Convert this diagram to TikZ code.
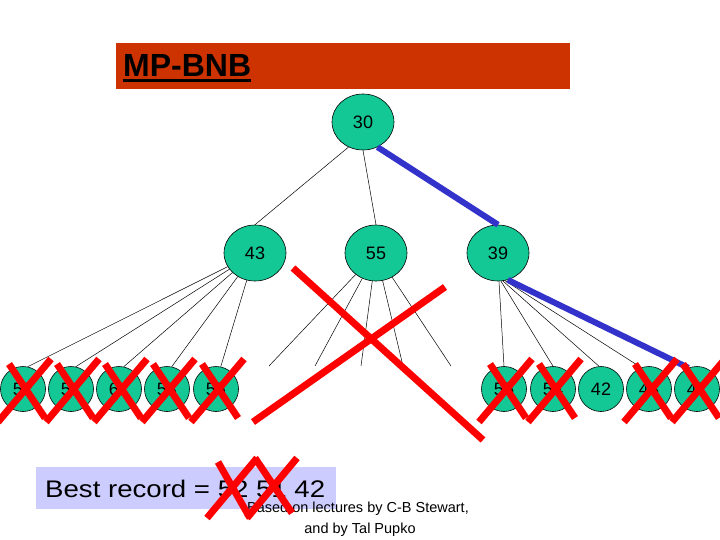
\documentclass[tikz,border=0pt]{standalone}
\usepackage{fontspec}
\setmainfont{Liberation Sans}
\usetikzlibrary{shapes.geometric}
\definecolor{nodegreen}{RGB}{20,200,150}
\definecolor{titlered}{RGB}{204,51,0}
\definecolor{boxblue}{RGB}{204,204,255}
\definecolor{pathblue}{RGB}{51,51,204}
\definecolor{crossred}{RGB}{255,0,0}
\tikzset{
  inner/.style={ellipse, draw=black, line width=0.6pt, fill=nodegreen, minimum width=62pt, minimum height=56pt, inner sep=0pt, font=\fontsize{18}{21}\selectfont},
  leaf/.style={circle, draw=black, line width=0.6pt, fill=nodegreen, minimum size=45pt, inner sep=0pt, font=\fontsize{18}{21}\selectfont},
  edge/.style={line width=0.5pt, draw=black},
  bestpath/.style={line width=6pt, draw=pathblue},
  cross/.style={line width=7pt, draw=crossred},
  redx/.pic={\draw[cross] (-14,-25) -- (22,29); \draw[cross] (28,-30) -- (-25,33);}
}
\begin{document}
\begin{tikzpicture}[x=1pt,y=-1pt]
\useasboundingbox (0,0) rectangle (720,540);
% title
\node[fill=titlered, minimum width=454pt, minimum height=46pt, inner sep=0pt] (bar) at (343,66) {};
\node[anchor=base west, inner sep=0pt, font=\fontsize{32}{36}\selectfont\bfseries] (ttl) at (123,77) {MP-BNB};
\draw[line width=2.5pt] ([yshift=-3.6pt]ttl.base west) -- ([yshift=-3.6pt]ttl.base east);
% internal nodes
\node[inner] (root) at (363,122) {30};
\node[inner] (n43) at (255,253) {43};
\node[inner] (n55) at (376,253) {55};
\node[inner] (n39) at (498,253) {39};
% leaves
\node[leaf] (l1) at (23,389) {52};
\node[leaf] (l2) at (71,389) {51};
\node[leaf] (l3) at (119,389) {61};
\node[leaf] (l4) at (167,389) {53};
\node[leaf] (l5) at (216,389) {55};
\node[leaf] (r1) at (504,389) {55};
\node[leaf] (r2) at (553,389) {54};
\node[leaf] (r3) at (601,389) {42};
\node[leaf] (r4) at (649,389) {43};
\node[leaf] (r5) at (697,389) {47};
% free ends under 55
\coordinate (c1) at (269,366);
\coordinate (c2) at (315,366);
\coordinate (c3) at (361,366);
\coordinate (c4) at (403,366);
\coordinate (c5) at (451,366);
% edges
\draw[edge] (root.240) -- (n43.north);
\draw[edge] (root.south) -- (n55.north);
\draw[bestpath] (root.-60) -- (n39.north);
\foreach \l in {l1,l2,l3,l4,l5} {\draw[edge] (n43) -- (\l.78);}
\foreach \c in {c1,c2,c3,c4,c5} {\draw[edge] (n55) -- (\c);}
\draw[edge] (n39.-88) -- (r1.north);
\draw[edge] (n39.-84) -- (r2.north);
\draw[edge] (n39.-80) -- (r3.95);
\draw[edge] (n39.-76) -- (r4.110);
\draw[bestpath] (n39.-70) -- (r5.112);
% crosses on leaves
\foreach \l in {l1,l2,l3,l4,l5,r1,r2,r4,r5} {\path (\l.center) pic {redx};}
% big cross over 55 subtree
\coordinate (bx1) at (293,268);
\coordinate (bx2) at (483,440);
\coordinate (bx3) at (445,287);
\coordinate (bx4) at (253,422);
\draw[cross] (bx1) -- (bx2);
\draw[cross] (bx3) -- (bx4);
% best record
\node[fill=boxblue, minimum width=300pt, minimum height=42pt, inner sep=0pt] (bestbox) at (186,488) {};
\node[anchor=base west, inner sep=0pt, font=\fontsize{24}{28}\selectfont] (besttxt) at (45,497) {\scalebox{1.15}[1]{Best record = 52 51 42}};
% footer
\node[anchor=base, inner sep=0pt, font=\fontsize{14.5}{17}\selectfont] (f1) at (358,512) {Based on lectures by C-B Stewart,};
\node[anchor=base, inner sep=0pt, font=\fontsize{14.5}{17}\selectfont] (f2) at (360,533) {and by Tal Pupko};
% cross over 52 51
\coordinate (sa1) at (207,518); \coordinate (sa2) at (257,458);
\coordinate (sb1) at (218,462); \coordinate (sb2) at (250,518);
\coordinate (sc1) at (255,458); \coordinate (sc2) at (292,513);
\coordinate (sd1) at (297,458); \coordinate (sd2) at (247,518);
\draw[cross] (sa1) -- (sa2);
\draw[cross] (sb1) -- (sb2);
\draw[cross] (sc1) -- (sc2);
\draw[cross] (sd1) -- (sd2);
\end{tikzpicture}
\end{document}
